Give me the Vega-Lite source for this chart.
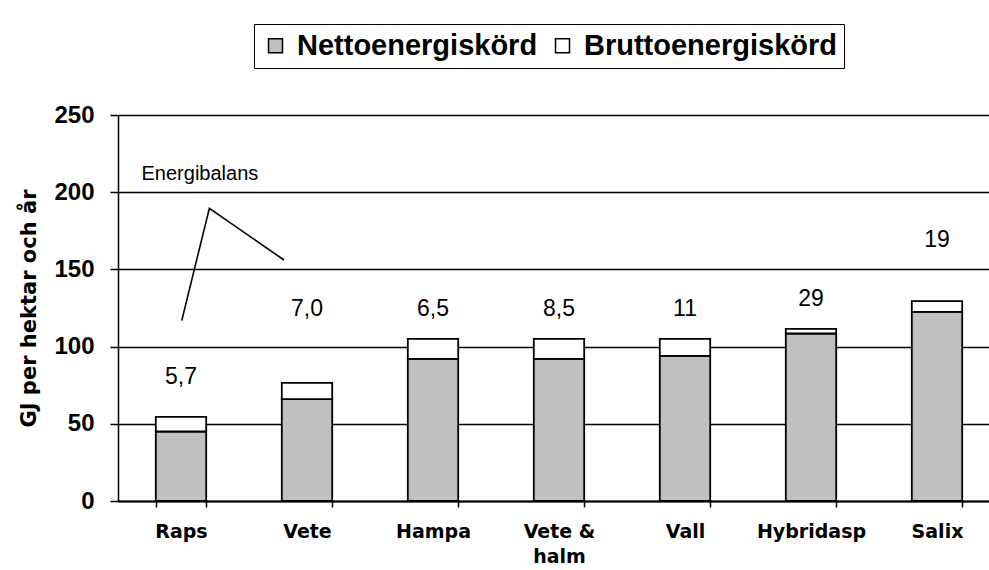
{
  "$schema": "https://vega.github.io/schema/vega-lite/v6.json",
  "width": 871,
  "height": 386,
  "autosize": {"type": "none"},
  "padding": {"left": 118, "top": 115, "right": 0, "bottom": 69},
  "background": "white",
  "config": {"view": {"stroke": null}, "font": "Liberation Sans"},
  "datasets": {
    "bars": [
      {"crop": "Raps", "serie": "Nettoenergiskörd", "low": 0, "high": 45},
      {"crop": "Raps", "serie": "Bruttoenergiskörd", "low": 45, "high": 54.5},
      {"crop": "Vete", "serie": "Nettoenergiskörd", "low": 0, "high": 66},
      {"crop": "Vete", "serie": "Bruttoenergiskörd", "low": 66, "high": 76.5},
      {"crop": "Hampa", "serie": "Nettoenergiskörd", "low": 0, "high": 92},
      {"crop": "Hampa", "serie": "Bruttoenergiskörd", "low": 92, "high": 105},
      {"crop": "Vete & halm", "serie": "Nettoenergiskörd", "low": 0, "high": 92},
      {"crop": "Vete & halm", "serie": "Bruttoenergiskörd", "low": 92, "high": 105},
      {"crop": "Vall", "serie": "Nettoenergiskörd", "low": 0, "high": 94},
      {"crop": "Vall", "serie": "Bruttoenergiskörd", "low": 94, "high": 105},
      {"crop": "Hybridasp", "serie": "Nettoenergiskörd", "low": 0, "high": 108.5},
      {"crop": "Hybridasp", "serie": "Bruttoenergiskörd", "low": 108.5, "high": 111.5},
      {"crop": "Salix", "serie": "Nettoenergiskörd", "low": 0, "high": 122.5},
      {"crop": "Salix", "serie": "Bruttoenergiskörd", "low": 122.5, "high": 129.5}
    ],
    "labels": [
      {"crop": "Raps", "label": "5,7", "y": 80},
      {"crop": "Vete", "label": "7,0", "y": 124.5},
      {"crop": "Hampa", "label": "6,5", "y": 124.5},
      {"crop": "Vete & halm", "label": "8,5", "y": 124.5},
      {"crop": "Vall", "label": "11", "y": 124.5},
      {"crop": "Hybridasp", "label": "29", "y": 131},
      {"crop": "Salix", "label": "19", "y": 169}
    ],
    "pointer": [
      {"i": 1, "px": 0.506, "py": 116.8},
      {"i": 2, "px": 0.725, "py": 189.6},
      {"i": 3, "px": 1.317, "py": 156.1}
    ],
    "note": [
      {"px": 0.65, "py": 212, "text": "Energibalans"}
    ]
  },
  "layer": [
    {
      "layer": [
        {
          "data": {"name": "bars"},
          "mark": {"type": "bar", "stroke": "black", "strokeWidth": 1.8},
          "encoding": {
            "x": {
              "field": "crop", "type": "nominal",
              "sort": ["Raps", "Vete", "Hampa", "Vete & halm", "Vall", "Hybridasp", "Salix"],
              "scale": {"range": [0, 882], "paddingInner": 0.6, "paddingOuter": 0.3},
              "axis": {
                "title": null,
                "labelAngle": 0,
                "labelFont": "DejaVu Sans",
                "labelFontWeight": "bold",
                "labelFontSize": 19,
                "labelColor": "black",
                "labelPadding": 15,
                "labelLineHeight": 25,
                "labelExpr": "datum.value == 'Vete & halm' ? ['Vete &', 'halm'] : datum.value",
                "tickBand": "extent",
                "tickSize": 6,
                "tickColor": "black",
                "tickWidth": 1.5,
                "domainColor": "black",
                "domainWidth": 2,
                "grid": false
              }
            },
            "y": {
              "field": "high", "type": "quantitative",
              "scale": {"domain": [0, 250], "nice": false},
              "axis": {
                "title": "GJ per hektar och år",
                "titleFont": "DejaVu Sans",
                "titleFontWeight": "bold",
                "titleFontSize": 21,
                "titleColor": "black",
                "titlePadding": 14,
                "values": [0, 50, 100, 150, 200, 250],
                "labelFont": "Liberation Sans",
                "labelFontWeight": "bold",
                "labelFontSize": 24,
                "labelColor": "black",
                "labelPadding": 16,
                "tickSize": 8,
                "tickColor": "black",
                "tickWidth": 1.5,
                "domainColor": "black",
                "domainWidth": 1.5,
                "grid": true,
                "gridColor": "black",
                "gridWidth": 1.5
              }
            },
            "y2": {"field": "low"},
            "fill": {
              "field": "serie", "type": "nominal",
              "scale": {"domain": ["Nettoenergiskörd", "Bruttoenergiskörd"], "range": ["#c0c0c0", "#ffffff"]},
              "legend": {
                "orient": "none",
                "legendX": 136,
                "legendY": -91,
                "direction": "horizontal",
                "title": null,
                "labelFont": "Liberation Sans",
                "labelFontWeight": "bold",
                "labelFontSize": 29,
                "labelColor": "black",
                "labelLimit": 500,
                "labelOffset": 7,
                "symbolType": "square",
                "symbolSize": 196,
                "symbolStrokeColor": "black",
                "symbolStrokeWidth": 1.5,
                "symbolOpacity": 1,
                "strokeColor": "black",
                "padding": 7,
                "columnPadding": 10
              }
            }
          }
        },
        {
          "data": {"name": "labels"},
          "mark": {"type": "text", "font": "Liberation Sans", "fontSize": 23, "color": "black", "baseline": "middle", "align": "center"},
          "encoding": {
            "x": {"field": "crop", "type": "nominal", "sort": ["Raps", "Vete", "Hampa", "Vete & halm", "Vall", "Hybridasp", "Salix"]},
            "y": {"field": "y", "type": "quantitative"},
            "text": {"field": "label"}
          }
        }
      ]
    },
    {
      "layer": [
        {
          "data": {"name": "pointer"},
          "mark": {"type": "line", "stroke": "black", "strokeWidth": 1.6},
          "encoding": {
            "x": {"field": "px", "type": "quantitative", "scale": {"domain": [0, 7], "range": [0, 882]}, "axis": null},
            "y": {"field": "py", "type": "quantitative"},
            "order": {"field": "i"}
          }
        },
        {
          "data": {"name": "note"},
          "mark": {"type": "text", "font": "Liberation Sans", "fontSize": 20, "color": "black", "baseline": "middle", "align": "center"},
          "encoding": {
            "x": {"field": "px", "type": "quantitative", "scale": {"domain": [0, 7], "range": [0, 882]}, "axis": null},
            "y": {"field": "py", "type": "quantitative"},
            "text": {"field": "text"}
          }
        }
      ]
    }
  ],
  "resolve": {"scale": {"x": "independent"}}
}
